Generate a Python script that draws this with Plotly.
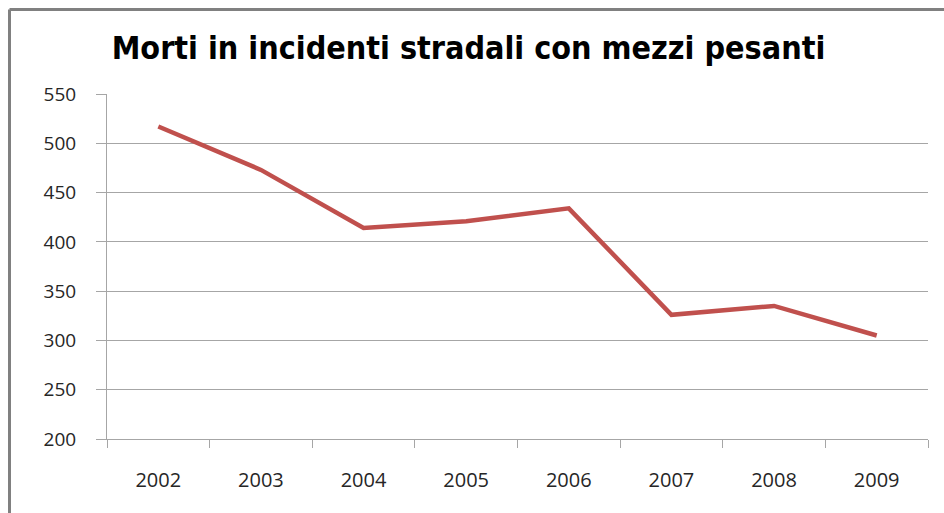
import plotly.graph_objects as go

years = ["2002", "2003", "2004", "2005", "2006", "2007", "2008", "2009"]
deaths = [517, 473, 414, 421, 434, 326, 335, 305]
y_ticks = [200, 250, 300, 350, 400, 450, 500, 550]
title_text = "Morti in incidenti stradali con mezzi pesanti"

W, H = 944, 513
L, R, T, B = 107, 944 - 928, 94, 513 - 439

fig = go.Figure()
fig.add_trace(go.Scatter(
    x=years, y=deaths, mode="lines",
    line=dict(color="#C0504D", width=4.5),
    hoverinfo="x+y", showlegend=False,
))

grid_col = "#A6A6A6"
fig.update_layout(
    width=W, height=H,
    margin=dict(l=L, r=R, t=T, b=B, pad=0),
    paper_bgcolor="white", plot_bgcolor="white",
    title=dict(text="<b>" + title_text + "</b>", x=(115 + 822) / 2 / W, xanchor="center",
               y=1 - 48 / H, yanchor="middle",
               font=dict(family="DejaVu Sans Condensed, DejaVu Sans", size=32, color="black")),
    font=dict(family="Open Sans", size=20, color="#262626"),
)
fig.update_xaxes(
    type="category", range=[-0.5, len(years) - 0.5],
    showgrid=False, showline=True, linecolor=grid_col, linewidth=1,
    ticks="outside", tickson="boundaries", ticklen=8, tickcolor=grid_col,
    tickfont=dict(size=20), ticklabelstandoff=23, fixedrange=True,
)
fig.update_yaxes(
    range=[200, 550], tickvals=y_ticks, showgrid=True, gridcolor=grid_col, gridwidth=1,
    showline=True, linecolor=grid_col, linewidth=1, zeroline=False,
    ticks="outside", ticklen=10, tickcolor=grid_col,
    tickfont=dict(size=19), ticklabelstandoff=16, fixedrange=True,
)

# outer frame (top and left edges visible)
fx0 = (9.5 - L) / (W - L - R)
fy1 = 1 + (T - 9.5) / (H - T - B)
fig.add_shape(type="line", xref="paper", yref="paper", x0=fx0, x1=1 + (R + 5) / (W - L - R),
              y0=fy1, y1=fy1, line=dict(color="#808080", width=3))
fig.add_shape(type="line", xref="paper", yref="paper", x0=fx0, x1=fx0,
              y0=fy1, y1=-(B + 5) / (H - T - B), line=dict(color="#808080", width=3))

fig.write_html("out.html", config={"displayModeBar": False},
               post_script="document.body.style.margin='0';")
